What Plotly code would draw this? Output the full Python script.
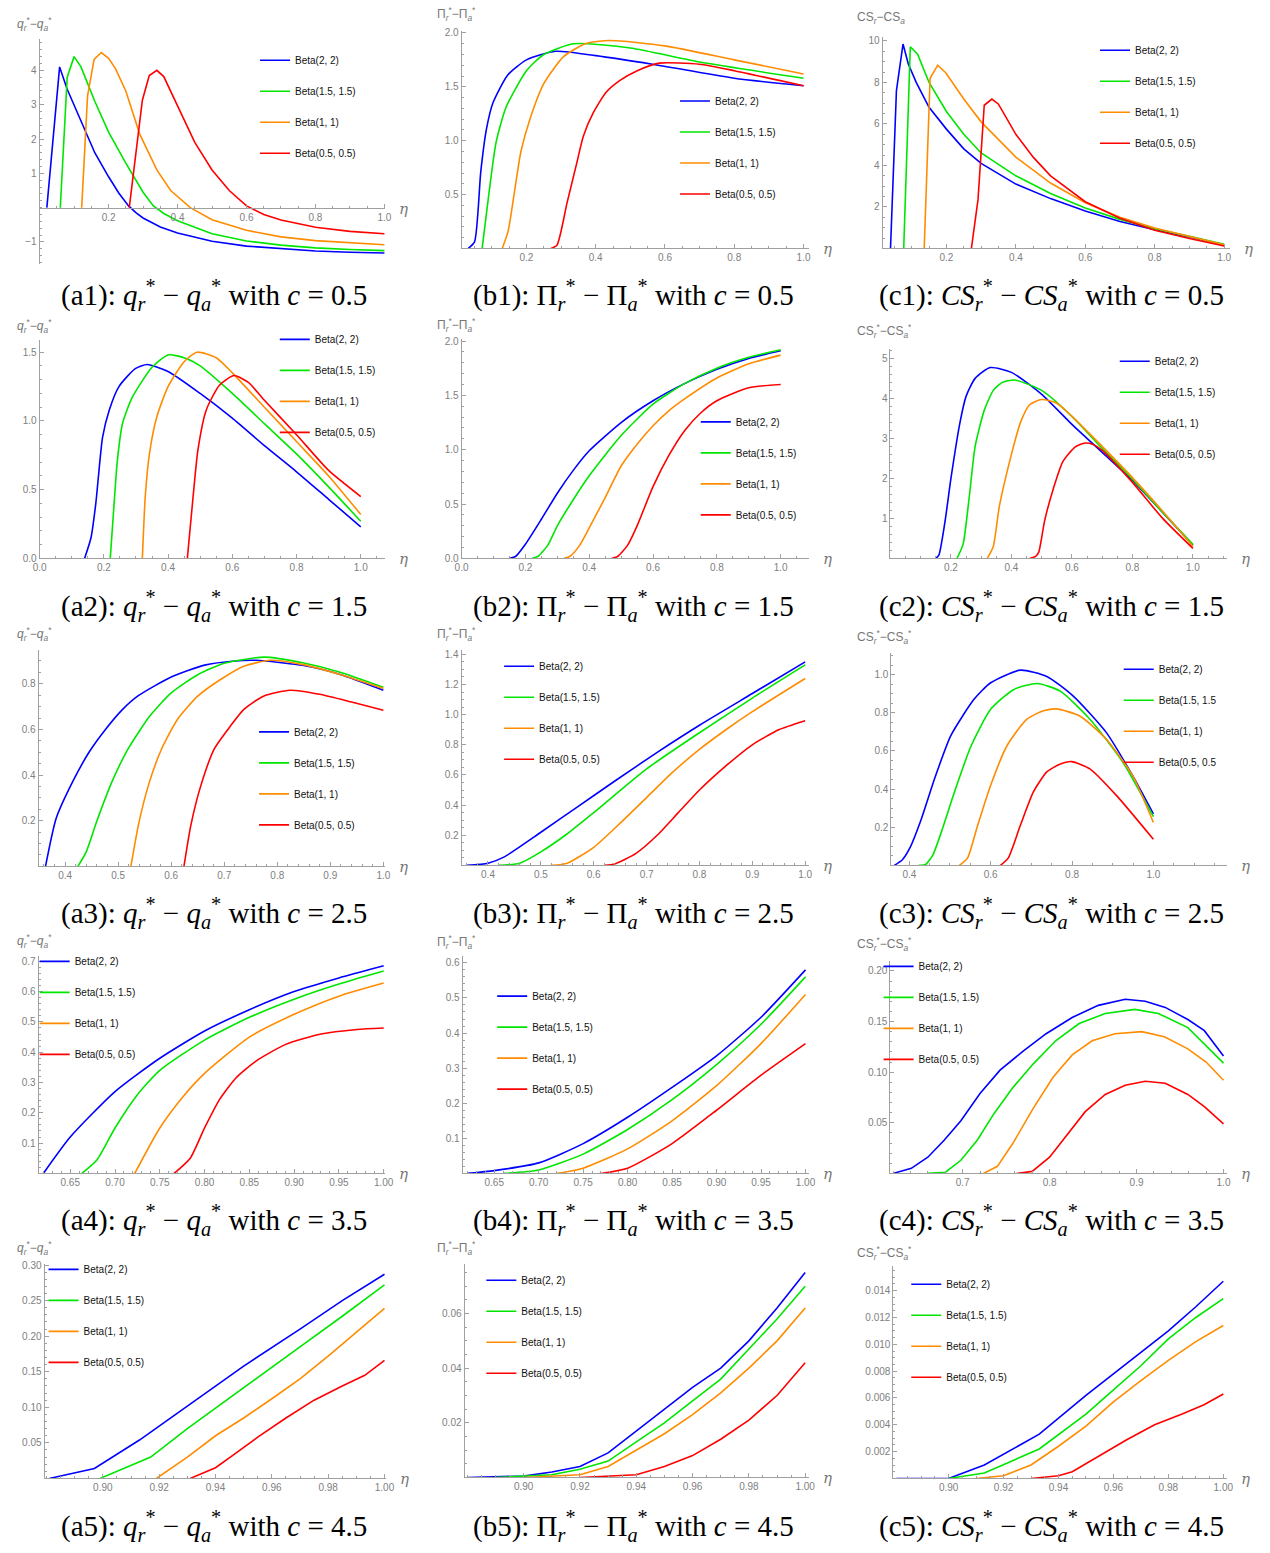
import plotly.graph_objects as go

W, H = 1270, 1553
SERIES = ["Beta(2, 2)", "Beta(1.5, 1.5)", "Beta(1, 1)", "Beta(0.5, 0.5)"]
SERIES_C3 = ["Beta(2, 2)", "Beta(1.5, 1.5", "Beta(1, 1)", "Beta(0.5, 0.5"]
COLORS = ["#0000ff", "#00e600", "#ff8c00", "#ff0000"]
C_VALUES = [0.5, 1.5, 2.5, 3.5, 4.5]

# ---------------- data (eta, value) ----------------
# (a1) q_r*-q_a*, c=0.5
a1_blue = [(0.021, 0), (0.058, 4.1), (0.08, 3.45), (0.1, 3.0), (0.12, 2.55), (0.14, 2.05), (0.16, 1.6), (0.2, 0.9),
           (0.23, 0.42), (0.258, 0.05), (0.28, -0.15), (0.3, -0.3), (0.35, -0.56), (0.4, -0.74), (0.5, -0.98),
           (0.6, -1.12), (0.7, -1.2), (0.8, -1.26), (0.9, -1.3), (1.0, -1.32)]
a1_green = [(0.06, 0), (0.08, 3.8), (0.1, 4.4), (0.12, 4.1), (0.14, 3.6), (0.16, 3.1), (0.2, 2.2), (0.25, 1.3),
            (0.3, 0.45), (0.33, 0.05), (0.36, -0.17), (0.4, -0.38), (0.5, -0.76), (0.6, -0.97), (0.7, -1.09),
            (0.8, -1.17), (0.9, -1.22), (1.0, -1.25)]
a1_orange = [(0.122, 0), (0.139, 3.25), (0.158, 4.32), (0.179, 4.52), (0.2, 4.35), (0.22, 4.05), (0.25, 3.4),
             (0.29, 2.15), (0.34, 1.1), (0.38, 0.5), (0.437, 0), (0.5, -0.35), (0.6, -0.66), (0.7, -0.85),
             (0.8, -0.96), (0.9, -1.03), (1.0, -1.08)]
a1_red = [(0.26, 0), (0.298, 3.13), (0.318, 3.85), (0.34, 4.0), (0.36, 3.82), (0.4, 2.95), (0.45, 1.9), (0.5, 1.1),
          (0.55, 0.5), (0.6, 0.05), (0.65, -0.2), (0.7, -0.36), (0.8, -0.57), (0.9, -0.69), (1.0, -0.76)]
# (b1) Pi_r*-Pi_a*, c=0.5
b1_blue = [(0.032, 0), (0.05, 0.06), (0.068, 0.71), (0.084, 1.1), (0.103, 1.35), (0.146, 1.61), (0.2, 1.75),
           (0.284, 1.83), (0.4, 1.79), (0.564, 1.71), (0.8, 1.58), (1.0, 1.51)]
b1_green = [(0.072, 0), (0.093, 0.545), (0.112, 0.98), (0.141, 1.31), (0.2, 1.65), (0.25, 1.8), (0.336, 1.9),
            (0.5, 1.86), (0.7, 1.73), (1.0, 1.58)]
b1_orange = [(0.13, 0), (0.147, 0.16), (0.184, 0.9), (0.212, 1.22), (0.25, 1.53), (0.307, 1.78), (0.37, 1.9),
             (0.44, 1.93), (0.6, 1.88), (0.8, 1.75), (1.0, 1.62)]
b1_red = [(0.27, 0), (0.288, 0.03), (0.317, 0.42), (0.345, 0.79), (0.364, 1.04), (0.393, 1.26), (0.43, 1.45),
          (0.47, 1.56), (0.52, 1.65), (0.583, 1.72), (0.7, 1.71), (0.8, 1.65), (1.0, 1.51)]
# (c1) CS_r-CS_a, c=0.5
c1_blue = [(0.039, 0), (0.056, 7.6), (0.075, 9.85), (0.09, 8.9), (0.113, 8.0), (0.15, 6.8), (0.2, 5.75),
           (0.25, 4.8), (0.3, 4.1), (0.4, 3.1), (0.5, 2.4), (0.6, 1.8), (0.7, 1.3), (0.8, 0.9), (0.9, 0.55),
           (1.0, 0.18)]
c1_green = [(0.077, 0), (0.096, 9.72), (0.117, 9.36), (0.15, 8.0), (0.2, 6.6), (0.25, 5.5), (0.3, 4.6), (0.4, 3.5),
            (0.5, 2.65), (0.6, 1.95), (0.7, 1.4), (0.8, 0.95), (0.9, 0.58), (1.0, 0.2)]
c1_orange = [(0.136, 0), (0.153, 8.2), (0.175, 8.83), (0.198, 8.47), (0.25, 7.2), (0.3, 6.1), (0.4, 4.4),
             (0.5, 3.15), (0.6, 2.2), (0.7, 1.5), (0.8, 0.98), (0.9, 0.58), (1.0, 0.17)]
c1_red = [(0.272, 0), (0.291, 2.35), (0.309, 6.9), (0.331, 7.2), (0.35, 6.95), (0.4, 5.5), (0.45, 4.4), (0.5, 3.5),
          (0.6, 2.25), (0.7, 1.45), (0.8, 0.88), (0.9, 0.48), (1.0, 0.12)]

# (a2) c=1.5
a2_blue = [(0.14, 0), (0.16, 0.15), (0.175, 0.4), (0.196, 0.88), (0.217, 1.08), (0.247, 1.25), (0.298, 1.38),
           (0.335, 1.41), (0.4, 1.36), (0.5, 1.2), (0.6, 1.02), (0.7, 0.82), (0.8, 0.63), (0.9, 0.43), (1.0, 0.23)]
a2_green = [(0.22, 0), (0.232, 0.4), (0.242, 0.71), (0.258, 0.98), (0.288, 1.17), (0.35, 1.39), (0.4, 1.48),
            (0.45, 1.46), (0.5, 1.4), (0.6, 1.2), (0.7, 0.98), (0.8, 0.76), (0.9, 0.52), (1.0, 0.27)]
a2_orange = [(0.32, 0), (0.329, 0.45), (0.342, 0.76), (0.365, 1.03), (0.4, 1.25), (0.45, 1.43), (0.49, 1.5),
             (0.55, 1.46), (0.6, 1.35), (0.7, 1.1), (0.8, 0.85), (0.9, 0.6), (1.0, 0.32)]
a2_red = [(0.46, 0), (0.478, 0.45), (0.493, 0.79), (0.519, 1.08), (0.56, 1.26), (0.606, 1.33), (0.65, 1.28),
          (0.7, 1.15), (0.8, 0.9), (0.9, 0.64), (1.0, 0.45)]
# (b2)
b2_blue = [(0.15, 0), (0.17, 0.02), (0.2, 0.13), (0.25, 0.36), (0.3, 0.6), (0.35, 0.81), (0.4, 0.99), (0.5, 1.25),
           (0.6, 1.45), (0.7, 1.61), (0.8, 1.74), (0.9, 1.84), (1.0, 1.91)]
b2_green = [(0.22, 0), (0.24, 0.02), (0.27, 0.12), (0.3, 0.3), (0.35, 0.54), (0.4, 0.76), (0.5, 1.13), (0.6, 1.42),
            (0.7, 1.61), (0.8, 1.75), (0.9, 1.85), (1.0, 1.92)]
b2_orange = [(0.32, 0), (0.34, 0.02), (0.37, 0.12), (0.4, 0.28), (0.45, 0.56), (0.5, 0.85), (0.55, 1.05),
             (0.6, 1.22), (0.65, 1.36), (0.7, 1.47), (0.8, 1.66), (0.9, 1.79), (1.0, 1.87)]
b2_red = [(0.47, 0), (0.49, 0.02), (0.52, 0.12), (0.55, 0.3), (0.6, 0.66), (0.65, 0.95), (0.7, 1.18), (0.75, 1.34),
          (0.8, 1.45), (0.9, 1.57), (1.0, 1.6)]
# (c2)
c2_blue = [(0.15, 0), (0.16, 0.08), (0.18, 0.9), (0.2, 2.0), (0.23, 3.4), (0.25, 4.05), (0.28, 4.5), (0.33, 4.77),
           (0.4, 4.65), (0.5, 4.1), (0.6, 3.35), (0.7, 2.65), (0.8, 1.95), (0.9, 1.15), (1.0, 0.33)]
c2_green = [(0.22, 0), (0.24, 0.35), (0.26, 1.5), (0.28, 2.8), (0.31, 3.7), (0.34, 4.2), (0.37, 4.4), (0.41, 4.46),
            (0.5, 4.2), (0.6, 3.55), (0.7, 2.75), (0.8, 1.98), (0.9, 1.15), (1.0, 0.35)]
c2_orange = [(0.32, 0), (0.34, 0.3), (0.36, 1.3), (0.4, 2.6), (0.43, 3.4), (0.46, 3.84), (0.5, 3.97), (0.55, 3.88),
             (0.6, 3.55), (0.7, 2.8), (0.8, 2.02), (0.9, 1.18), (1.0, 0.3)]
c2_red = [(0.46, 0), (0.48, 0.05), (0.49, 0.15), (0.51, 0.95), (0.54, 1.78), (0.57, 2.42), (0.61, 2.78),
          (0.64, 2.88), (0.67, 2.85), (0.7, 2.7), (0.8, 1.9), (0.9, 1.0), (1.0, 0.25)]

# (a3) c=2.5
a3_blue = [(0.363, 0), (0.383, 0.21), (0.414, 0.37), (0.445, 0.5), (0.476, 0.6), (0.507, 0.685), (0.538, 0.748),
           (0.6, 0.83), (0.663, 0.882), (0.72, 0.9), (0.76, 0.903), (0.85, 0.88), (0.92, 0.84), (1.0, 0.772)]
a3_green = [(0.424, 0), (0.44, 0.065), (0.46, 0.2), (0.49, 0.38), (0.52, 0.52), (0.56, 0.66), (0.6, 0.76),
            (0.65, 0.84), (0.7, 0.89), (0.776, 0.917), (0.85, 0.891), (0.92, 0.85), (1.0, 0.785)]
a3_orange = [(0.524, 0), (0.538, 0.18), (0.557, 0.355), (0.581, 0.51), (0.612, 0.645), (0.65, 0.746), (0.693, 0.819),
             (0.737, 0.877), (0.787, 0.903), (0.849, 0.884), (0.92, 0.84), (1.0, 0.78)]
a3_red = [(0.624, 0), (0.637, 0.18), (0.656, 0.355), (0.681, 0.514), (0.712, 0.616), (0.737, 0.688), (0.774, 0.746),
          (0.824, 0.772), (0.88, 0.754), (0.94, 0.72), (1.0, 0.684)]
# (b3)
b3_blue = [(0.36, 0), (0.4, 0.015), (0.43, 0.055), (0.5, 0.22), (0.57, 0.39), (0.64, 0.56), (0.72, 0.75),
           (0.8, 0.93), (0.9, 1.14), (1.0, 1.35)]
b3_green = [(0.42, 0), (0.46, 0.015), (0.5, 0.09), (0.55, 0.21), (0.6, 0.35), (0.7, 0.64), (0.8, 0.88),
            (0.9, 1.11), (1.0, 1.33)]
b3_orange = [(0.52, 0), (0.55, 0.015), (0.6, 0.12), (0.65, 0.28), (0.7, 0.45), (0.75, 0.62), (0.8, 0.77),
             (0.85, 0.9), (0.9, 1.02), (1.0, 1.24)]
b3_red = [(0.62, 0), (0.64, 0.01), (0.68, 0.08), (0.72, 0.2), (0.76, 0.35), (0.8, 0.5), (0.85, 0.66), (0.9, 0.8),
          (0.95, 0.9), (1.0, 0.96)]
# (c3)
c3_blue = [(0.363, 0), (0.383, 0.03), (0.401, 0.09), (0.43, 0.246), (0.462, 0.454), (0.502, 0.68), (0.559, 0.87),
           (0.6, 0.957), (0.673, 1.023), (0.738, 0.99), (0.803, 0.887), (0.884, 0.697), (0.949, 0.47), (1.0, 0.27)]
c3_green = [(0.423, 0), (0.44, 0.005), (0.458, 0.055), (0.479, 0.177), (0.511, 0.385), (0.552, 0.627), (0.6, 0.818),
            (0.657, 0.922), (0.714, 0.953), (0.771, 0.913), (0.844, 0.766), (0.925, 0.54), (1.0, 0.255)]
c3_orange = [(0.523, 0), (0.543, 0.038), (0.568, 0.21), (0.6, 0.42), (0.64, 0.627), (0.689, 0.766), (0.73, 0.81),
             (0.762, 0.82), (0.819, 0.783), (0.884, 0.662), (0.949, 0.47), (1.0, 0.225)]
c3_red = [(0.624, 0), (0.643, 0.038), (0.673, 0.21), (0.705, 0.385), (0.738, 0.49), (0.77, 0.53), (0.799, 0.544),
          (0.844, 0.506), (0.909, 0.367), (1.0, 0.137)]

# (a4) c=3.5
a4_blue = [(0.62, 0), (0.65, 0.12), (0.7, 0.27), (0.75, 0.38), (0.8, 0.47), (0.85, 0.54), (0.9, 0.6), (0.95, 0.645),
           (1.0, 0.685)]
a4_green = [(0.663, 0), (0.68, 0.045), (0.7, 0.15), (0.725, 0.26), (0.75, 0.34), (0.8, 0.44), (0.85, 0.515),
            (0.9, 0.575), (0.95, 0.625), (1.0, 0.668)]
a4_orange = [(0.722, 0), (0.75, 0.15), (0.775, 0.25), (0.8, 0.33), (0.85, 0.45), (0.9, 0.525), (0.95, 0.585),
             (1.0, 0.628)]
a4_red = [(0.766, 0), (0.784, 0.05), (0.8, 0.15), (0.817, 0.245), (0.835, 0.315), (0.857, 0.37), (0.89, 0.425),
          (0.93, 0.46), (0.97, 0.475), (1.0, 0.48)]
# (b4)
b4_blue = [(0.62, 0), (0.65, 0.008), (0.7, 0.03), (0.75, 0.085), (0.8, 0.16), (0.85, 0.245), (0.9, 0.335),
           (0.95, 0.445), (1.0, 0.58)]
b4_green = [(0.66, 0), (0.7, 0.01), (0.75, 0.055), (0.8, 0.125), (0.85, 0.21), (0.9, 0.31), (0.95, 0.425),
            (1.0, 0.56)]
b4_orange = [(0.72, 0), (0.75, 0.015), (0.8, 0.07), (0.85, 0.15), (0.9, 0.25), (0.95, 0.37), (1.0, 0.51)]
b4_red = [(0.77, 0), (0.8, 0.015), (0.85, 0.085), (0.9, 0.18), (0.95, 0.28), (1.0, 0.37)]
# (c4)
c4_blue = [(0.62, 0), (0.641, 0.005), (0.66, 0.016), (0.679, 0.033), (0.698, 0.052), (0.72, 0.079), (0.743, 0.102),
           (0.77, 0.121), (0.796, 0.138), (0.826, 0.154), (0.856, 0.166), (0.887, 0.172), (0.91, 0.17),
           (0.933, 0.164), (0.959, 0.152), (0.978, 0.141), (1.0, 0.116)]
c4_green = [(0.66, 0), (0.68, 0.001), (0.698, 0.013), (0.717, 0.033), (0.736, 0.059), (0.758, 0.085),
            (0.781, 0.108), (0.807, 0.131), (0.834, 0.148), (0.864, 0.158), (0.898, 0.162), (0.925, 0.158),
            (0.959, 0.144), (1.0, 0.109)]
c4_orange = [(0.724, 0), (0.74, 0.007), (0.758, 0.03), (0.781, 0.064), (0.804, 0.095), (0.826, 0.117),
             (0.849, 0.131), (0.875, 0.138), (0.906, 0.14), (0.932, 0.135), (0.959, 0.123), (0.98, 0.11),
             (1.0, 0.092)]
c4_red = [(0.762, 0), (0.78, 0.002), (0.8, 0.016), (0.819, 0.037), (0.841, 0.061), (0.864, 0.078), (0.887, 0.087),
          (0.91, 0.091), (0.933, 0.089), (0.959, 0.078), (0.978, 0.066), (1.0, 0.049)]

# (a5) c=4.5
a5_blue = [(0.881, 0), (0.897, 0.014), (0.913, 0.054), (0.93, 0.102), (0.95, 0.158), (0.97, 0.21), (0.985, 0.25),
           (1.0, 0.287)]
a5_green = [(0.899, 0), (0.917, 0.03), (0.93, 0.07), (0.95, 0.128), (0.97, 0.185), (0.985, 0.228), (1.0, 0.272)]
a5_orange = [(0.919, 0), (0.93, 0.03), (0.94, 0.06), (0.95, 0.085), (0.96, 0.112), (0.97, 0.14), (0.98, 0.172),
             (0.99, 0.205), (1.0, 0.239)]
a5_red = [(0.931, 0), (0.94, 0.015), (0.946, 0.032), (0.955, 0.058), (0.965, 0.085), (0.975, 0.11), (0.985, 0.13),
          (0.993, 0.145), (1.0, 0.166)]
# (b5)
b5_blue = [(0.88, 0), (0.9, 0.0005), (0.91, 0.002), (0.92, 0.004), (0.93, 0.009), (0.94, 0.017), (0.95, 0.025),
           (0.96, 0.033), (0.97, 0.04), (0.98, 0.05), (0.99, 0.062), (1.0, 0.075)]
b5_green = [(0.89, 0), (0.91, 0.001), (0.92, 0.003), (0.93, 0.006), (0.94, 0.013), (0.95, 0.02), (0.96, 0.028),
            (0.97, 0.036), (0.98, 0.047), (0.99, 0.058), (1.0, 0.07)]
b5_orange = [(0.9, 0), (0.92, 0.001), (0.93, 0.004), (0.94, 0.01), (0.95, 0.016), (0.96, 0.023), (0.97, 0.031),
             (0.98, 0.04), (0.99, 0.05), (1.0, 0.062)]
b5_red = [(0.92, 0), (0.94, 0.001), (0.95, 0.004), (0.96, 0.008), (0.97, 0.014), (0.98, 0.021), (0.99, 0.03),
          (1.0, 0.042)]
# (c5)
c5_blue = [(0.881, 0), (0.9, 0), (0.913, 0.001), (0.933, 0.0033), (0.95, 0.0062), (0.96, 0.0078), (0.97, 0.0094),
           (0.98, 0.011), (0.99, 0.0128), (1.0, 0.0147)]
c5_green = [(0.9, 0), (0.913, 0.0004), (0.933, 0.0022), (0.95, 0.0048), (0.96, 0.0066), (0.97, 0.0084),
            (0.98, 0.0104), (0.99, 0.012), (1.0, 0.0134)]
c5_orange = [(0.91, 0), (0.92, 0.0002), (0.93, 0.001), (0.94, 0.0024), (0.95, 0.0039), (0.96, 0.0057),
             (0.97, 0.0073), (0.98, 0.0088), (0.99, 0.0102), (1.0, 0.0114)]
c5_red = [(0.93, 0), (0.94, 0.0002), (0.945, 0.0005), (0.955, 0.0017), (0.965, 0.0029), (0.975, 0.004),
          (0.985, 0.0048), (0.993, 0.0055), (1.0, 0.0063)]

# ---------------- tick labels ----------------
def labs(vals, nd):
    return [("\u2212" if v < 0 else "") + f"{abs(v):.{nd}f}" for v in vals]

X_T1 = [0.2, 0.4, 0.6, 0.8, 1.0]
X_T2 = [0.0, 0.2, 0.4, 0.6, 0.8, 1.0]
X_T3 = [0.4, 0.5, 0.6, 0.7, 0.8, 0.9, 1.0]
X_T3C = [0.4, 0.6, 0.8, 1.0]
X_T4 = [0.65, 0.70, 0.75, 0.80, 0.85, 0.90, 0.95, 1.00]
X_T4C = [0.7, 0.8, 0.9, 1.0]
X_T5 = [0.90, 0.92, 0.94, 0.96, 0.98, 1.00]

AX = "#a0a0a0"
TK = "#808080"

panels = [
    dict(k="a1", r=0, c=0, d=[a1_blue, a1_green, a1_orange, a1_red], box=(33, 383, 35, 262),
         xr=(0.0, 1.003), yr=(-1.65, 4.92), xt=X_T1, xn=1, xm=0.05,
         yt=[-1, 1, 2, 3, 4], yn=0, ym=0.2, xcross=205, leg=(297, 60), shape="linear"),
    dict(k="b1", r=0, c=1, d=[b1_blue, b1_green, b1_orange, b1_red], box=(460, 812, 27, 246),
         xr=(0.0126, 1.017), yr=(0.0, 2.02), xt=X_T1, xn=1, xm=0.05,
         yt=[0.5, 1.0, 1.5, 2.0], yn=1, ym=0.1, leg=(722, 101), shape="spline"),
    dict(k="c1", r=0, c=2, d=[c1_blue, c1_green, c1_orange, c1_red], box=(886, 1238, 33, 246),
         xr=(0.016, 1.018), yr=(0.0, 10.2), xt=X_T1, xn=1, xm=0.05,
         yt=[2, 4, 6, 8, 10], yn=0, ym=0.5, leg=(1147, 50), shape="linear"),
    dict(k="a2", r=1, c=0, d=[a2_blue, a2_green, a2_orange, a2_red], box=(33, 383, 338, 558),
         xr=(0.0, 1.077), yr=(0.0, 1.59), xt=X_T2, xn=1, xm=0.05,
         yt=[0.0, 0.5, 1.0, 1.5], yn=1, ym=0.1, leg=(317, 341), shape="spline"),
    dict(k="b2", r=1, c=1, d=[b2_blue, b2_green, b2_orange, b2_red], box=(460, 812, 337, 558),
         xr=(0.0, 1.09), yr=(0.0, 2.02), xt=X_T2, xn=1, xm=0.05,
         yt=[0.0, 0.5, 1.0, 1.5, 2.0], yn=1, ym=0.1, leg=(743, 424), shape="spline"),
    dict(k="c2", r=1, c=2, d=[c2_blue, c2_green, c2_orange, c2_red], box=(894, 1235, 347, 558),
         xr=(0.0, 1.114), yr=(0.0, 5.24), xt=X_T1, xn=1, xm=0.05,
         yt=[1, 2, 3, 4, 5], yn=0, ym=0.2, leg=(1167, 363), shape="spline"),
    dict(k="a3", r=2, c=0, d=[a3_blue, a3_green, a3_orange, a3_red], box=(32, 383, 650, 868),
         xr=(0.35, 1.004), yr=(0.0, 0.949), xt=X_T3, xn=1, xm=0.02,
         yt=[0.2, 0.4, 0.6, 0.8], yn=1, ym=0.05, leg=(296, 736), shape="spline"),
    dict(k="b3", r=2, c=1, d=[b3_blue, b3_green, b3_orange, b3_red], box=(460, 812, 650, 867),
         xr=(0.35, 1.008), yr=(0.0, 1.43), xt=X_T3, xn=1, xm=0.02,
         yt=[0.2, 0.4, 0.6, 0.8, 1.0, 1.2, 1.4], yn=1, ym=0.05, leg=(544, 670), shape="spline"),
    dict(k="c3", r=2, c=2, d=[c3_blue, c3_green, c3_orange, c3_red], box=(895, 1235, 653, 867),
         xr=(0.356, 1.182), yr=(0.0, 1.114), xt=X_T3C, xn=1, xm=0.05,
         yt=[0.2, 0.4, 0.6, 0.8, 1.0], yn=1, ym=0.05, leg=(1171, 673), shape="spline"),
    dict(k="a4", r=3, c=0, d=[a4_blue, a4_green, a4_orange, a4_red], box=(32, 383, 958, 1177),
         xr=(0.6147, 1.002), yr=(0.0, 0.718), xt=X_T4, xn=2, xm=0.01,
         yt=[0.1, 0.2, 0.3, 0.4, 0.5, 0.6, 0.7], yn=1, ym=0.02, leg=(74, 967), shape="spline"),
    dict(k="b4", r=3, c=1, d=[b4_blue, b4_green, b4_orange, b4_red], box=(461, 812, 958, 1177),
         xr=(0.6144, 1.0044), yr=(0.0, 0.62), xt=X_T4, xn=2, xm=0.01,
         yt=[0.1, 0.2, 0.3, 0.4, 0.5, 0.6], yn=1, ym=0.02, leg=(537, 1002), shape="spline"),
    dict(k="c4", r=3, c=2, d=[c4_blue, c4_green, c4_orange, c4_red], box=(894, 1235, 963, 1177),
         xr=(0.617, 1.0045), yr=(0.0, 0.21), xt=X_T4C, xn=1, xm=0.02,
         yt=[0.05, 0.10, 0.15, 0.20], yn=2, ym=0.01, leg=(928, 972), shape="linear"),
    dict(k="a5", r=4, c=0, d=[a5_blue, a5_green, a5_orange, a5_red], box=(38, 384, 1268, 1484),
         xr=(0.8793, 1.0007), yr=(0.0, 0.3017), xt=X_T5, xn=2, xm=0.005,
         yt=[0.05, 0.10, 0.15, 0.20, 0.25, 0.30], yn=2, ym=0.01, leg=(83, 1277), shape="linear"),
    dict(k="b5", r=4, c=1, d=[b5_blue, b5_green, b5_orange, b5_red], box=(463, 812, 1268, 1483),
         xr=(0.879, 1.0015), yr=(0.0, 0.0782), xt=X_T5, xn=2, xm=0.005,
         yt=[0.02, 0.04, 0.06], yn=2, ym=0.005, leg=(526, 1288), shape="linear"),
    dict(k="c5", r=4, c=2, d=[c5_blue, c5_green, c5_orange, c5_red], box=(897, 1235, 1270, 1484),
         xr=(0.8799, 1.0015), yr=(0.0, 0.01585), xt=X_T5, xn=2, xm=0.005,
         yt=[0.002, 0.004, 0.006, 0.008, 0.010, 0.012, 0.014], yn=3, ym=0.0005, leg=(956, 1292), shape="linear"),
]

YLAB = {
    0: "<i>q</i><sub><i>r</i></sub><sup>*</sup>\u2212<i>q</i><sub><i>a</i></sub><sup>*</sup>",
    1: "\u03a0<sub><i>r</i></sub><sup>*</sup>\u2212\u03a0<sub><i>a</i></sub><sup>*</sup>",
    2: "CS<sub><i>r</i></sub><sup>*</sup>\u2212CS<sub><i>a</i></sub><sup>*</sup>",
}
YLAB_C1 = "CS<sub><i>r</i></sub>\u2212CS<sub><i>a</i></sub>"
CAP = {
    0: "<i>q</i><sub><i>r</i></sub><sup>*</sup> \u2212 <i>q</i><sub><i>a</i></sub><sup>*</sup>",
    1: "\u03a0<sub><i>r</i></sub><sup>*</sup> \u2212 \u03a0<sub><i>a</i></sub><sup>*</sup>",
    2: "<i>CS</i><sub><i>r</i></sub><sup>*</sup> \u2212 <i>CS</i><sub><i>a</i></sub><sup>*</sup>",
}
COL_LEFT = [8, 433, 858]
COL_CENTER = [209, 634, 1057]
ROW_YLAB = [[20, 10, 14], [324, 323, 329], [634, 634, 637], [943, 944, 946], [1252, 1252, 1257]]
ROW_CAP = [293, 606, 915, 1224, 1532]

fig = go.Figure()
layout = dict(width=W, height=H, margin=dict(l=0, r=0, t=0, b=0), paper_bgcolor="white",
              plot_bgcolor="rgba(0,0,0,0)", showlegend=True, font=dict(family="Liberation Sans"))
annotations = []

for i, p in enumerate(panels):
    n = i + 1
    xs = "" if n == 1 else str(n)
    L, R, T, B = p["box"]
    legname = "legend" + xs
    names = SERIES_C3 if p["k"] == "c3" else SERIES
    for s, pts in enumerate(p["d"]):
        fig.add_trace(go.Scatter(
            x=[q[0] for q in pts], y=[q[1] for q in pts], mode="lines", name=names[s],
            line=dict(color=COLORS[s], width=1.6, shape=p["shape"], smoothing=0.6),
            xaxis="x" + xs, yaxis="y" + xs, legend=legname, legendgroup=f"{p['k']}{s}",
            hoverinfo="skip"))
    common = dict(showline=True, linecolor=AX, linewidth=1, ticks="inside", ticklen=4, tickcolor=AX,
                  tickwidth=1, showgrid=False, zeroline=False, fixedrange=True,
                  tickfont=dict(size=10, color=TK, family="Liberation Sans"), tickmode="array")
    xa = dict(common, domain=[L / W, R / W], range=list(p["xr"]), tickvals=p["xt"],
              ticktext=labs(p["xt"], p["xn"]),
              minor=dict(ticks="inside", ticklen=2, tickcolor=AX, dtick=p["xm"], tick0=0, showgrid=False))
    if "xcross" in p:
        xa.update(anchor="free", position=1 - p["xcross"] / H)
    else:
        xa.update(anchor="y" + xs)
    ya = dict(common, domain=[1 - B / H, 1 - T / H], range=list(p["yr"]), tickvals=p["yt"],
              ticktext=labs(p["yt"], p["yn"]), anchor="x" + xs,
              minor=dict(ticks="inside", ticklen=2, tickcolor=AX, dtick=p["ym"], tick0=0, showgrid=False))
    layout["xaxis" + xs] = xa
    layout["yaxis" + xs] = ya
    tx, ty = p["leg"]
    layout[legname] = dict(x=(tx - 46) / W, y=1 - (ty - 18) / H, xanchor="left", yanchor="top",
                           bgcolor="rgba(0,0,0,0)", borderwidth=0, tracegroupgap=12, itemwidth=30,
                           font=dict(size=10, color="#111111", family="Liberation Sans"),
                           traceorder="grouped", itemclick=False, itemdoubleclick=False)
    ylab = YLAB_C1 if p["k"] == "c1" else YLAB[p["c"]]
    annotations.append(dict(text=ylab, x=COL_LEFT[p["c"]] / W, y=1 - ROW_YLAB[p["r"]][p["c"]] / H,
                            xref="paper", yref="paper", xanchor="left", yanchor="middle", showarrow=False,
                            font=dict(size=12, color="#777777", family="Liberation Sans")))
    axis_y = p.get("xcross", B)
    annotations.append(dict(text="<i>\u03b7</i>", x=(R + 18) / W, y=1 - (axis_y + 1) / H, xref="paper",
                            yref="paper", xanchor="center", yanchor="middle", showarrow=False,
                            font=dict(size=15, color="#777777", family="DejaVu Serif")))
    cap = f"({p['k']}): " + CAP[p["c"]] + f" with <i>c</i> = {C_VALUES[p['r']]}"
    annotations.append(dict(text=cap, x=COL_CENTER[p["c"]] / W, y=1 - ROW_CAP[p["r"]] / H, xref="paper",
                            yref="paper", xanchor="center", yanchor="middle", showarrow=False,
                            font=dict(size=29, color="black", family="Liberation Serif")))

layout["annotations"] = annotations
fig.update_layout(**layout)
fig.write_html("out.html", config={"displayModeBar": False},
               post_script="document.body.style.margin='0';document.body.style.overflow='hidden';")
